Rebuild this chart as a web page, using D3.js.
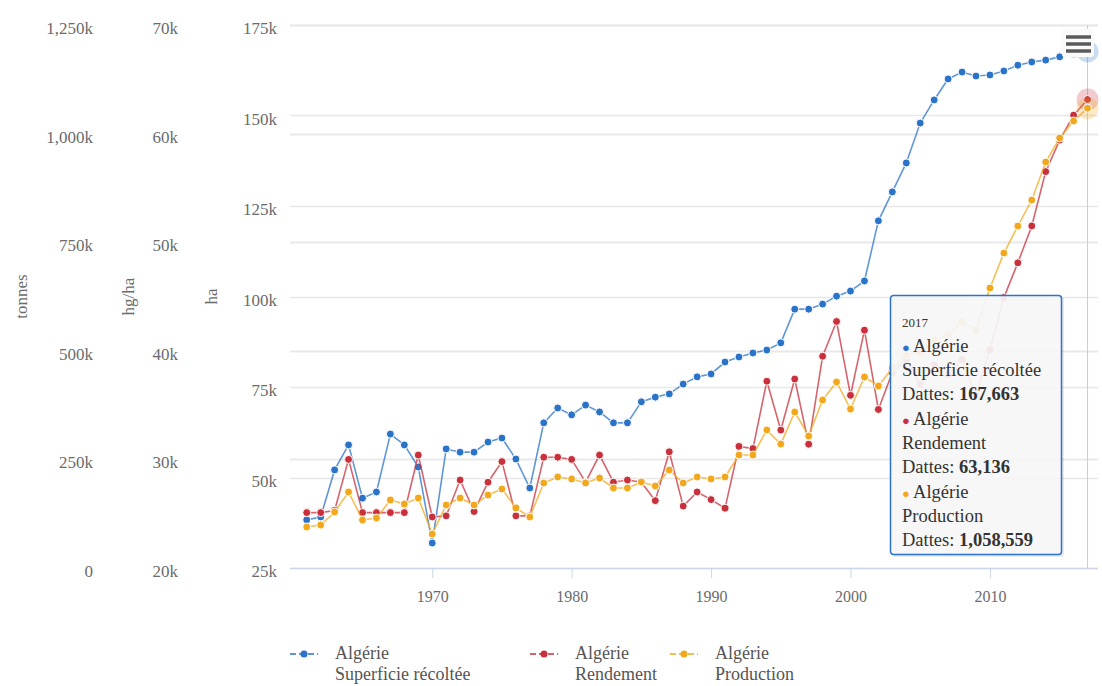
<!DOCTYPE html>
<html>
<head>
<meta charset="utf-8">
<script src="https://cdn.jsdelivr.net/npm/d3@7"></script>
<style>
  body { margin: 0; background: #fff; }
  svg { font-family: "Liberation Serif", "DejaVu Serif", serif; }
</style>
</head>
<body>
<div id="chart"></div>
<script>
// years on the x axis
var years = [1961,1962,1963,1964,1965,1966,1967,1968,1969,1970,
	1971,1972,1973,1974,1975,1976,1977,1978,1979,1980,
	1981,1982,1983,1984,1985,1986,1987,1988,1989,1990,
	1991,1992,1993,1994,1995,1996,1997,1998,1999,2000,
	2001,2002,2003,2004,2005,2006,2007,2008,2009,2010,
	2011,2012,2013,2014,2015,2016,2017];

// Superficie récoltée (ha)
var superficie = [38300,39100,52100,59000,44300,46000,62000,59000,52900,31900,
	57900,57000,57000,59800,60900,55100,47100,65100,69200,67300,
	70000,68100,65100,65100,70900,72200,73100,75800,77800,78600,
	81900,83300,84400,85200,87200,96500,96500,97900,100100,101500,
	104300,120900,128900,136900,147900,154300,160100,162000,160900,161200,
	162300,163900,164800,165300,166200,167000,167663];

// Rendement (hg/ha)
var rendement = [25100,25100,25300,30000,25100,25100,25100,25100,30400,24700,
	24800,28100,25200,27900,29800,24800,24800,30200,30200,30000,
	27900,30400,27900,28100,27900,26200,30700,25700,27000,26300,
	25500,31200,31000,37200,32700,37400,31400,39500,42700,35900,
	41900,34600,38000,39200,36900,38700,37800,39200,35900,40100,
	44900,48100,51500,56500,59400,61700,63136];

// Production (tonnes)
var production = [94400,99000,128900,175000,110500,115100,156500,147300,161100,78300,
	145000,161100,145000,168000,181900,138100,117400,195700,209500,204900,
	195700,207200,184200,184200,198000,188800,225600,195700,209500,204900,
	209500,260100,260100,317700,285500,359100,303900,386700,428200,366000,
	439700,419000,460400,490300,497200,524900,536400,566300,547900,644600,
	725100,787300,847100,934600,989900,1029000,1058559];

// axis ticks
var tonnesTicks = [0, 250000, 500000, 750000, 1000000, 1250000];
var hgTicks = [20000, 30000, 40000, 50000, 60000, 70000];
var haTicks = [25000, 50000, 75000, 100000, 125000, 150000, 175000];
var yearTicks = [1970, 1980, 1990, 2000, 2010];

var cfg = {
	w: 1102, h: 686,
	left: 290, right: 1098, top: 25, bottom: 568,
	colors: { sup: "#2b73c8", ren: "#c8303c", pro: "#f2a81c" }
};

var svg = d3.select("#chart").append("svg")
	.attr("width", cfg.w)
	.attr("height", cfg.h);

var x = d3.scaleLinear().domain([1959.8, 2017.75]).range([cfg.left, cfg.right]);
var yHa = d3.scaleLinear().domain([25000, 175000]).range([cfg.bottom, cfg.top]);
var yHg = d3.scaleLinear().domain([20000, 70000]).range([cfg.bottom, cfg.top]);
var yT = d3.scaleLinear().domain([0, 1250000]).range([cfg.bottom, cfg.top]);

function kFmt(v) { return v === 0 ? "0" : d3.format(",")(v / 1000) + "k"; }

// grid lines (each y axis draws its own)
var grid = svg.append("g");
[[yHa, haTicks], [yHg, hgTicks], [yT, tonnesTicks]].forEach(function(p) {
	grid.selectAll(null).data(p[1]).enter().append("line")
		.attr("x1", cfg.left).attr("x2", cfg.right)
		.attr("y1", function(d) { return Math.round(p[0](d)) + 0.5; })
		.attr("y2", function(d) { return Math.round(p[0](d)) + 0.5; })
		.attr("stroke", "#e8e8e8")
		.attr("stroke-width", 1.5);
});

// y axes labels
function yAxis(scale, ticks, xr, title, tx) {
	var g = svg.append("g")
		.attr("transform", "translate(" + xr + ",0)")
		.call(d3.axisLeft(scale).tickValues(ticks).tickFormat(kFmt).tickSize(0).tickPadding(0));
	g.select(".domain").remove();
	g.selectAll("text")
		.attr("fill", "#6b6b6b")
		.attr("font-size", "17px")
		.attr("font-family", "Liberation Serif, serif")
		.attr("dy", "0.5em");
	svg.append("text")
		.attr("transform", "translate(" + tx + "," + ((cfg.top + cfg.bottom) / 2) + ") rotate(-90)")
		.attr("text-anchor", "middle")
		.attr("fill", "#6b6b6b")
		.attr("font-size", "17px")
		.text(title);
}
yAxis(yT, tonnesTicks, 93, "tonnes", 27);
yAxis(yHg, hgTicks, 178, "hg/ha", 134);
yAxis(yHa, haTicks, 277, "ha", 217);

// x axis
var xAxis = svg.append("g")
	.attr("transform", "translate(0," + cfg.bottom + ")")
	.call(d3.axisBottom(x).tickValues(yearTicks).tickFormat(d3.format("d")).tickSize(10).tickPadding(13));
xAxis.select(".domain")
	.attr("d", "M" + cfg.left + ",0.5H" + cfg.right)
	.attr("stroke", "#ccd6eb");
xAxis.selectAll(".tick line").attr("stroke", "#ccd6eb");
xAxis.selectAll("text")
	.attr("fill", "#6b6b6b")
	.attr("font-size", "16px")
	.attr("font-family", "Liberation Serif, serif");

// crosshair at the hovered year
svg.append("line")
	.attr("x1", x(2017)).attr("x2", x(2017))
	.attr("y1", cfg.top).attr("y2", cfg.bottom)
	.attr("stroke", "#cccccc")
	.attr("stroke-width", 1);

var series = [
	{ name: "Superficie récoltée", vals: superficie, y: yHa, color: cfg.colors.sup },
	{ name: "Rendement", vals: rendement, y: yHg, color: cfg.colors.ren },
	{ name: "Production", vals: production, y: yT, color: cfg.colors.pro }
];

var plot = svg.append("g");
series.forEach(function(s) {
	var pts = years.map(function(yr, i) { return { yr: yr, v: s.vals[i] }; });
	plot.append("path")
		.datum(pts)
		.attr("fill", "none")
		.attr("stroke", s.color)
		.attr("stroke-opacity", 0.75)
		.attr("stroke-width", 1.6)
		.attr("d", d3.line()
			.x(function(d) { return x(d.yr); })
			.y(function(d) { return s.y(d.v); }));
	// hover halo on last point
	var last = pts[pts.length - 1];
	plot.append("circle")
		.attr("cx", x(last.yr)).attr("cy", s.y(last.v))
		.attr("r", 11)
		.attr("fill", s.color)
		.attr("fill-opacity", 0.25);
	plot.selectAll(null).data(pts).enter().append("circle")
		.attr("cx", function(d) { return x(d.yr); })
		.attr("cy", function(d) { return s.y(d.v); })
		.attr("r", 4)
		.attr("fill", s.color)
		.attr("stroke", "#fff")
		.attr("stroke-width", 1);
});

// context menu button
var menu = svg.append("g");
menu.append("rect")
	.attr("x", 1062).attr("y", 29).attr("width", 32).attr("height", 28)
	.attr("rx", 3).attr("fill", "#fafafa");
[37, 44, 51].forEach(function(yy) {
	menu.append("line")
		.attr("x1", 1066).attr("x2", 1091)
		.attr("y1", yy).attr("y2", yy)
		.attr("stroke", "#5a5a5a")
		.attr("stroke-width", 3.5);
});

// tooltip
var tip = svg.append("g").attr("transform", "translate(890,295)");
tip.append("rect")
	.attr("x", 2).attr("y", 2).attr("width", 172).attr("height", 260).attr("rx", 3)
	.attr("fill", "#000").attr("fill-opacity", 0.08);
tip.append("rect")
	.attr("x", 0.5).attr("y", 0.5).attr("width", 171).attr("height", 259).attr("rx", 3)
	.attr("fill", "#f7f7f7").attr("fill-opacity", 0.92)
	.attr("stroke", cfg.colors.sup).attr("stroke-width", 1.5);
tip.append("text")
	.attr("x", 12).attr("y", 32)
	.attr("font-size", "13px").attr("fill", "#333")
	.text("2017");

var tipVals = ["167,663", "63,136", "1,058,559"];
series.forEach(function(s, i) {
	var y0 = 57 + i * 73;
	var t1 = tip.append("text").attr("x", 12).attr("y", y0).attr("font-size", "18.5px").attr("fill", "#333");
	t1.append("tspan").attr("fill", s.color).text("● ").attr("font-size", "13px");
	t1.append("tspan").text("Algérie");
	tip.append("text").attr("x", 12).attr("y", y0 + 24).attr("font-size", "18.5px").attr("fill", "#333").text(s.name);
	var t3 = tip.append("text").attr("x", 12).attr("y", y0 + 48).attr("font-size", "18.5px").attr("fill", "#333");
	t3.append("tspan").text("Dattes: ");
	t3.append("tspan").attr("font-weight", "bold").text(tipVals[i]);
});

// legend
var legX = [290, 530, 670];
series.forEach(function(s, i) {
	var g = svg.append("g").attr("transform", "translate(" + legX[i] + ",654)");
	g.append("line").attr("x1", 0).attr("x2", 28).attr("y1", 0).attr("y2", 0)
		.attr("stroke", s.color).attr("stroke-width", 1.6).attr("stroke-dasharray", "6,3");
	g.append("circle").attr("cx", 14).attr("cy", 0).attr("r", 3.5).attr("fill", s.color);
	g.append("text").attr("x", 45).attr("y", 5).attr("font-size", "18px").attr("fill", "#555").text("Algérie");
	g.append("text").attr("x", 45).attr("y", 26).attr("font-size", "18px").attr("fill", "#555").text(s.name);
});
</script>
</body>
</html>
